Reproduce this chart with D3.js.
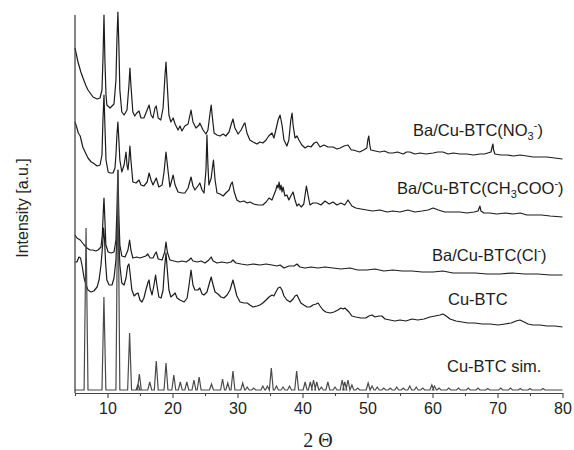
<!DOCTYPE html>
<html>
<head>
<meta charset="utf-8">
<script src="https://cdn.jsdelivr.net/npm/d3@7"></script>
<style>
  body { margin: 0; background: #fff; }
  svg { display: block; font-family: "Liberation Sans", Arial, sans-serif; }
</style>
</head>
<body>
<svg width="574" height="450"></svg>
<script>
// 2 theta range and tick labels
var xDomain = [5, 80];
var majorTicks = [10, 20, 30, 40, 50, 60, 70, 80];
var minorTicks = [5, 15, 25, 35, 45, 55, 65, 75];

// traces as [2theta, stacked intensity (a.u.)]
var nitrate = [[5.0,342],[5.46,328],[5.9,318],[6.23,312],[6.7,304],[7.0,300],[7.77,293],[8.4,291],[8.85,292],[9.15,300],[9.3,330],[9.46,375],[9.6,330],[9.77,295],[9.9,285],[10.4,282],[11.0,286],[11.3,310],[11.45,350],[11.6,378],[11.75,345],[11.9,300],[12.2,278],[12.55,275],[13.0,280],[13.3,305],[13.45,322],[13.6,305],[13.9,278],[14.2,274],[14.5,277],[14.85,279],[15.15,272],[15.6,272],[16.1,280],[16.4,285],[16.7,275],[17.0,272],[17.3,282],[17.5,284],[17.8,272],[18.2,270],[18.55,282],[18.85,315],[19.0,328],[19.15,310],[19.45,275],[19.75,268],[20.1,272],[20.4,266],[20.85,260],[21.15,264],[21.45,259],[21.9,264],[22.4,266],[22.85,280],[23.15,268],[23.6,262],[24.1,265],[24.2,267],[24.7,260],[25.15,256],[25.45,260],[25.8,278],[25.95,285],[26.1,275],[26.4,257],[26.85,255],[27.3,254],[27.8,256],[28.2,254],[28.7,258],[29.0,265],[29.3,271],[29.6,262],[30.1,256],[30.55,260],[31.0,266],[31.15,267],[31.45,257],[31.9,250],[32.4,248],[33.0,246],[33.45,248],[33.9,247],[34.4,250],[34.8,254],[35.3,257],[35.6,252],[35.9,260],[36.25,270],[36.55,275],[36.85,265],[37.15,250],[37.6,244],[37.9,250],[38.2,270],[38.4,277],[38.55,265],[38.85,252],[39.15,254],[39.45,250],[39.9,245],[40.4,242],[40.85,244],[41.3,243],[41.8,247],[42.2,248],[42.7,243],[43.3,245],[43.9,243],[44.7,243],[45.3,241],[45.8,242],[46.4,244],[47.0,245],[47.5,240],[47.8,240],[48.3,239],[48.8,238],[49.4,240],[49.9,242],[50.05,250],[50.2,254],[50.35,245],[50.5,240],[51.2,239],[51.9,238],[52.6,239],[53.3,237],[53.9,237],[54.6,238],[55.5,236],[56.0,238],[56.5,238],[57.3,236],[58.1,237],[59.0,236],[60.1,237],[60.8,238],[61.6,238],[62.4,236],[63.2,237],[64.2,236],[65.3,236],[66.3,235],[67.3,236],[68.0,236],[68.5,237],[69.0,238],[69.2,244],[69.3,246],[69.4,240],[69.6,236],[70.5,235],[71.5,235],[72.5,234],[73.5,235],[74.5,234],[75.5,233],[76.5,233],[77.6,233],[78.8,232],[80,231]];

var acetate = [[5.0,268],[5.3,262],[5.5,257],[5.8,254],[6.2,243],[6.7,236],[7.0,232],[7.5,228],[7.8,227],[8.4,224],[8.85,225],[9.15,235],[9.3,270],[9.46,295],[9.6,265],[9.77,230],[10.1,218],[10.4,217],[10.85,217],[11.15,222],[11.3,235],[11.45,255],[11.6,268],[11.75,250],[11.9,230],[12.2,218],[12.55,225],[12.85,238],[13.0,225],[13.15,220],[13.3,230],[13.45,244],[13.6,230],[13.9,208],[14.4,207],[14.85,210],[15.15,205],[15.6,204],[16.1,208],[16.4,217],[16.7,210],[17.0,205],[17.5,212],[17.9,203],[18.4,205],[18.7,218],[19.0,238],[19.3,220],[19.6,203],[20.1,215],[20.4,205],[20.85,198],[21.45,197],[21.9,197],[22.4,202],[22.85,213],[23.15,204],[23.45,200],[23.9,204],[24.2,207],[24.55,200],[24.85,197],[25.15,220],[25.3,255],[25.45,225],[25.6,205],[25.95,212],[26.1,220],[26.3,230],[26.55,210],[26.85,197],[27.3,196],[27.8,194],[28.2,197],[28.7,200],[29.0,206],[29.2,208],[29.5,198],[29.9,190],[30.4,188],[31.0,189],[31.5,187],[31.9,188],[32.5,186],[33.15,185],[33.9,185],[34.4,188],[34.85,192],[35.3,190],[35.6,195],[35.9,200],[36.1,205],[36.25,202],[36.4,208],[36.55,200],[36.7,205],[36.85,198],[37.0,203],[37.3,194],[37.6,195],[37.9,190],[38.2,194],[38.55,198],[38.85,190],[39.15,184],[39.45,186],[39.8,183],[40.2,186],[40.4,195],[40.6,204],[40.85,195],[41.15,185],[41.6,187],[42.2,187],[42.85,185],[43.45,189],[44.1,186],[44.7,188],[45.3,185],[45.9,187],[46.5,185],[47.0,190],[47.3,187],[47.6,184],[48.2,182],[49.0,181],[49.9,180],[50.8,179],[51.9,180],[53.0,178],[53.9,179],[55.0,178],[56.2,180],[57.3,178],[58.4,179],[59.3,180],[60.1,182],[60.9,180],[61.9,178],[63.0,178],[64.2,178],[65.3,177],[66.4,178],[67.0,179],[67.3,184],[67.45,179],[67.9,177],[68.8,177],[69.9,176],[71.2,177],[72.4,176],[73.5,177],[74.5,175],[75.8,175],[76.8,175],[78.1,174],[80,173]];

var chloride = [[5.0,155],[5.3,152],[5.8,150],[6.4,145],[6.85,142],[7.3,140],[7.75,140],[8.2,139],[8.55,140],[9.0,143],[9.2,155],[9.4,185],[9.46,192],[9.6,170],[9.75,145],[10.1,138],[10.55,137],[11.0,138],[11.3,150],[11.45,180],[11.6,220],[11.75,175],[11.9,145],[12.2,134],[12.7,133],[13.15,140],[13.4,150],[13.6,140],[13.9,132],[14.5,133],[15.0,132],[15.45,133],[15.9,134],[16.2,136],[16.55,132],[17.0,132],[17.3,136],[17.5,138],[17.8,131],[18.4,130],[18.8,138],[19.0,148],[19.2,138],[19.6,130],[20.2,129],[20.85,128],[21.45,129],[22.1,128],[22.55,130],[22.85,132],[23.15,129],[23.8,128],[24.4,129],[25.0,127],[25.6,130],[25.95,133],[26.25,129],[26.85,127],[27.6,128],[28.4,127],[29.0,128],[29.3,130],[29.75,127],[30.55,126],[31.5,125],[32.4,126],[33.45,125],[34.4,126],[35.3,125],[36.1,124],[36.55,125],[37.15,122],[37.9,124],[38.7,124],[39.15,126],[39.6,123],[40.4,122],[41.3,123],[42.4,122],[43.45,123],[44.7,122],[45.9,121],[47.3,122],[48.5,120],[49.9,120],[51.15,121],[52.5,119],[53.9,120],[55.3,119],[56.85,119],[58.4,118],[60.1,118],[61.6,119],[63.15,117],[64.7,117],[66.55,117],[68.4,116],[70.4,116],[72.25,117],[74.2,116],[76.2,116],[78.1,115],[80,115]];

var cuBtc = [[5.0,128],[5.3,128],[5.6,133],[5.85,132],[6.1,124],[6.4,112],[6.7,105],[7.0,100],[7.45,98],[7.9,99],[8.4,103],[8.7,110],[9.0,125],[9.25,145],[9.4,162],[9.55,150],[9.7,128],[9.9,110],[10.25,105],[10.7,105],[11.0,112],[11.3,130],[11.45,155],[11.6,175],[11.75,150],[11.9,125],[12.2,107],[12.55,105],[12.85,112],[13.1,124],[13.3,126],[13.45,118],[13.75,100],[14.1,94],[14.4,96],[14.7,97],[15.0,90],[15.3,88],[15.6,92],[15.9,100],[16.25,108],[16.4,110],[16.55,102],[16.85,95],[17.15,105],[17.4,115],[17.6,105],[17.9,93],[18.25,92],[18.55,100],[18.75,120],[19.0,137],[19.2,120],[19.45,100],[19.75,93],[20.1,95],[20.4,97],[20.7,92],[21.15,90],[21.8,88],[22.25,92],[22.55,105],[22.85,120],[23.15,105],[23.45,100],[23.9,100],[24.2,102],[24.55,96],[24.85,95],[25.3,98],[25.6,105],[25.95,113],[26.25,105],[26.55,98],[27.0,96],[27.45,93],[27.9,92],[28.4,95],[28.85,100],[29.3,110],[29.6,102],[29.9,94],[30.4,88],[31.0,87],[31.5,87],[31.9,85],[32.4,83],[33.0,84],[33.45,85],[33.9,87],[34.4,90],[34.85,93],[35.3,95],[35.6,94],[35.9,98],[36.25,102],[36.55,103],[36.85,100],[37.15,94],[37.6,90],[38.1,88],[38.55,91],[38.85,94],[39.15,95],[39.45,91],[39.75,87],[40.2,85],[40.7,83],[41.15,83],[41.6,85],[42.1,86],[42.4,87],[42.7,84],[43.15,80],[43.6,78],[44.25,77],[44.85,78],[45.45,80],[45.9,82],[46.25,81],[46.5,82],[46.85,80],[47.15,78],[47.6,74],[48.2,73],[49.0,72],[49.75,72],[50.2,74],[50.7,75],[51.15,73],[51.75,74],[52.2,74],[52.7,71],[53.45,70],[54.2,69],[55.0,70],[55.9,69],[56.85,71],[57.75,70],[58.7,71],[59.6,73],[60.4,74],[61.15,75],[61.6,76],[62.1,74],[62.7,71],[63.6,69],[64.55,68],[65.45,67],[66.55,67],[67.6,66],[68.85,66],[70.1,65],[71.15,66],[72.1,67],[72.85,69],[73.45,70],[74.1,68],[74.7,66],[75.45,65],[76.55,65],[77.6,64],[78.85,64],[80,63]];

// simulated pattern: peak positions and heights
var simPos = [6.7,9.45,11.6,13.4,14.7,14.9,16.5,17.5,19.0,20.2,21.2,22.2,23.3,24.1,26.0,27.7,28.5,29.3,30.8,31.5,32.5,33.9,34.6,35.2,36.0,37.0,38.0,39.1,40.4,41.2,41.7,42.2,42.9,43.9,45.0,46.1,46.5,47.0,47.6,48.5,50.1,50.7,51.5,52.5,53.5,54.5,55.5,56.5,57.5,58.5,59.9,60.3,61.0,62.5,64.0,65.5,67.0,68.5,70.5,72.0,73.5,75.0,77.0];
var simInt = [162,93,220,57,6,16,8,29,27,15,8,8,10,13,6,11,7,19,7,3,2,4,4,22,4,3,4,19,8,8,10,8,3,8,3,10,8,10,5,2,7,4,3,2,2,3,2,4,3,2,5,4,2,2,2,2,2,1.5,2,2,1.5,1.5,1.5];

var traces = [nitrate, acetate, chloride, cuBtc];

var svg = d3.select("svg");
var x = d3.scaleLinear().domain(xDomain).range([75, 562.5]);
var y = d3.scaleLinear().domain([-3, 378]).range([393, 12]);

var line = d3.line()
  .x(function(d) { return x(d[0]); })
  .y(function(d) { return y(d[1]); });

svg.selectAll("path.trace")
  .data(traces)
  .enter()
  .append("path")
  .attr("class", "trace")
  .attr("d", line)
  .attr("fill", "none")
  .attr("stroke", "#1c1c1c")
  .attr("stroke-width", 1.2)
  .attr("stroke-linejoin", "round");

// stick pattern for the simulation
var simPts = [[xDomain[0], 0]];
simPos.forEach(function(p, i) {
  simPts.push([p - 0.3, 0], [p, simInt[i]], [p + 0.3, 0]);
});
simPts.push([xDomain[1], 0]);
svg.append("path")
  .attr("d", line(simPts))
  .attr("fill", "none")
  .attr("stroke", "#4a4a4a")
  .attr("stroke-width", 1.2);

// axes
var axisColor = "#444";
var gx = svg.append("g").attr("transform", "translate(0,393)");
gx.call(d3.axisBottom(x).tickValues(majorTicks).tickSize(5).tickSizeOuter(0).tickPadding(5));
var gm = svg.append("g").attr("transform", "translate(0,393)");
gm.call(d3.axisBottom(x).tickValues(minorTicks).tickSize(3).tickSizeOuter(0).tickFormat(""));
gm.select(".domain").remove();
svg.selectAll(".tick line").attr("stroke", axisColor).attr("stroke-width", 1.1);
gx.select(".domain").attr("stroke", axisColor).attr("stroke-width", 1.2);
gx.selectAll(".tick text")
  .attr("font-size", 16)
  .attr("font-family", "Liberation Sans, Arial, sans-serif")
  .attr("fill", "#222");

svg.append("line")
  .attr("x1", 75).attr("x2", 75)
  .attr("y1", 15).attr("y2", 393)
  .attr("stroke", axisColor)
  .attr("stroke-width", 1.3);

svg.append("text")
  .attr("x", 318).attr("y", 447)
  .attr("text-anchor", "middle")
  .attr("font-family", "Liberation Serif, Times New Roman, serif")
  .attr("font-size", 20)
  .attr("fill", "#222")
  .text("2 \u0398");

svg.append("text")
  .attr("transform", "translate(28,208) rotate(-90)")
  .attr("text-anchor", "middle")
  .attr("font-size", 16)
  .attr("fill", "#222")
  .text("Intensity [a.u.]");

// trace labels
var lbl = function(px, py) {
  return svg.append("text")
    .attr("x", px).attr("y", py)
    .attr("font-size", 16.5)
    .attr("fill", "#1c1c1c");
};
var t1 = lbl(413, 136);
t1.append("tspan").text("Ba/Cu-BTC(NO");
t1.append("tspan").attr("font-size", 11).attr("dy", 4).text("3");
t1.append("tspan").attr("font-size", 11).attr("dy", -11).text("-");
t1.append("tspan").attr("dy", 7).text(")");

var t2 = lbl(397, 194);
t2.append("tspan").text("Ba/Cu-BTC(CH");
t2.append("tspan").attr("font-size", 11).attr("dy", 4).text("3");
t2.append("tspan").attr("dy", -4).text("COO");
t2.append("tspan").attr("font-size", 11).attr("dy", -7).text("-");
t2.append("tspan").attr("dy", 7).text(")");

var t3 = lbl(432, 261);
t3.append("tspan").text("Ba/Cu-BTC(Cl");
t3.append("tspan").attr("font-size", 11).attr("dy", -7).text("-");
t3.append("tspan").attr("dy", 7).text(")");

lbl(448, 305).text("Cu-BTC");
lbl(447, 372).text("Cu-BTC sim.");
</script>
</body>
</html>
